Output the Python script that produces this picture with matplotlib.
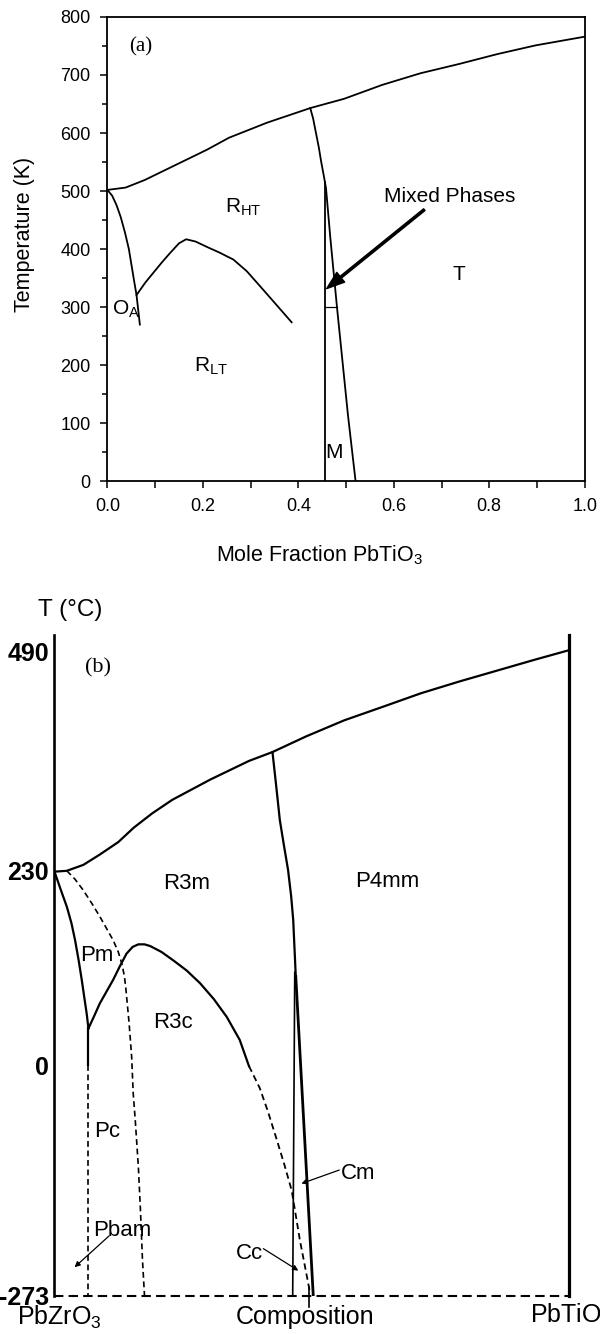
import numpy as np
import matplotlib.pyplot as plt
from matplotlib.ticker import MultipleLocator

plt.rcParams['font.family'] = ['Liberation Sans', 'DejaVu Sans']
plt.rcParams['mathtext.fontset'] = 'custom'
plt.rcParams['mathtext.rm'] = 'Liberation Sans'
plt.rcParams['mathtext.it'] = 'Liberation Sans:italic'
plt.rcParams['mathtext.bf'] = 'Liberation Sans:bold'
plt.rcParams['lines.solid_joinstyle'] = 'round'
plt.rcParams['lines.dash_joinstyle'] = 'round'

# ---- panel (a): phase diagram, T in K vs mole fraction PbTiO3
a_curie_x = [0, 0.038, 0.078, 0.138, 0.208, 0.255, 0.335, 0.425, 0.496, 0.576, 0.656, 0.737, 0.817, 0.897, 1.0]
a_curie_t = [502, 506, 519, 543, 571, 592, 618, 643, 659, 683, 703, 719, 736, 751, 766]
a_oa_x = [0, 0.010, 0.019, 0.028, 0.037, 0.045, 0.051, 0.056, 0.061, 0.068]
a_oa_t = [502, 492, 476, 455, 428, 400, 370, 345, 321, 270]
a_rlt_x = [0.061, 0.080, 0.096, 0.115, 0.131, 0.150, 0.165, 0.185, 0.208, 0.235, 0.264, 0.292, 0.320, 0.352, 0.386]
a_rlt_t = [321, 343, 359, 378, 393, 410, 417, 413, 404, 394, 382, 362, 336, 306, 274]
a_mpb_x = [0.425, 0.431, 0.437, 0.443, 0.448, 0.453, 0.458, 0.467, 0.481, 0.504, 0.520]
a_mpb_t = [643, 625, 600, 575, 550, 528, 505, 420, 300, 114, 0]
a_mono_x = [0.455, 0.455]
a_mono_t = [0, 515]
a_rt_x = [0.455, 0.481]
a_rt_t = [300, 300]

# ---- panel (b): schematic, T in deg C vs composition
b_curie_x = [0, 0.024, 0.056, 0.0875, 0.124, 0.154, 0.19, 0.229, 0.303, 0.378, 0.4237, 0.489, 0.563, 0.638, 0.712, 0.787, 0.861, 0.935, 1.0]
b_curie_t = [229, 230, 237, 249, 264, 281, 298, 314, 338, 360, 370.5, 389, 408, 424, 440, 454, 467, 480, 491]
b_pm_x = [0, 0.012, 0.024, 0.033, 0.040, 0.047, 0.053, 0.058, 0.0626, 0.066]
b_pm_t = [229, 208, 187.5, 168, 148, 124, 101, 80, 61, 43.6]
b_r3c_x = [0.066, 0.077, 0.088, 0.101, 0.114, 0.127, 0.140, 0.152, 0.163, 0.175, 0.186, 0.208, 0.231, 0.257, 0.283, 0.310, 0.335, 0.360, 0.378]
b_r3c_t = [43.6, 58, 73, 87, 101, 117, 132, 140, 143, 143, 141, 134, 124, 112, 97, 78, 57, 30, -1]
b_r3c_dash_x = [0.378, 0.399, 0.415, 0.432, 0.447, 0.461, 0.477, 0.497]
b_r3c_dash_t = [-1, -27, -55, -88, -118, -148, -207, -270]
b_pc_x = [0.024, 0.040, 0.056, 0.072, 0.088, 0.101, 0.114, 0.124, 0.131, 0.136, 0.139, 0.145, 0.150, 0.153, 0.157, 0.163, 0.167, 0.171, 0.175]
b_pc_t = [230, 220, 207, 192, 176, 162, 148, 134, 120, 105, 89, 50, 10, -33, -65, -120, -170, -230, -273]
b_pbam_solid_t = [43.6, 0]
b_pbam_dash_t = [0, -273]
b_pbam_x = 0.066
b_mpb_x = [0.4237, 0.431, 0.438, 0.446, 0.454, 0.460, 0.464, 0.469]
b_mpb_t = [370.5, 330, 290, 260, 231, 200, 172, 105]
b_cc_x = [0.467, 0.463]
b_cc_t = [110, -273]
b_cm_x = [0.469, 0.503]
b_cm_t = [105, -273]
b_ticks = [490, 230, 0, -273]
b_ticklabels = ['490', '230', '0', '-273']

fig = plt.figure(figsize=(6, 13.34), dpi=100)

ax = fig.add_axes([0.179, 0.6392, 0.7955, 0.3481])
lw = 1.3
ax.plot(a_curie_x, a_curie_t, color='black', lw=lw)
ax.plot(a_oa_x, a_oa_t, color='black', lw=lw)
ax.plot(a_rlt_x, a_rlt_t, color='black', lw=lw)
ax.plot(a_mpb_x, a_mpb_t, color='black', lw=lw)
ax.plot(a_mono_x, a_mono_t, color='black', lw=lw)
ax.plot(a_rt_x, a_rt_t, color='black', lw=0.9)
ax.set_xlim(0, 1)
ax.set_ylim(0, 800)
ax.xaxis.set_major_locator(MultipleLocator(0.2))
ax.xaxis.set_minor_locator(MultipleLocator(0.1))
ax.yaxis.set_major_locator(MultipleLocator(100))
ax.yaxis.set_minor_locator(MultipleLocator(50))
ax.xaxis.set_major_formatter(plt.FuncFormatter(lambda v, p: '%.1f' % v))
ax.tick_params(which='both', direction='out', width=1.1, labelsize=13)
ax.tick_params(which='major', length=5)
ax.tick_params(which='minor', length=3.5)
ax.tick_params(axis='x', which='both', pad=7, length=5)
ax.tick_params(axis='y', pad=7)
for s in ax.spines.values():
    s.set_linewidth(1.3)
ax.set_xlabel('Mole Fraction PbTiO$_3$', fontsize=15.5)
ax.xaxis.set_label_coords(0.445, -0.133)
ax.set_ylabel('Temperature (K)', fontsize=15.5)
ax.yaxis.set_label_coords(-0.152, 0.531)

ax.text(0.07, 748, '(a)', family=['Liberation Serif'], fontsize=15, ha='center', va='center')
ax.text(0.246, 462, r'R$_{\mathrm{HT}}$', fontsize=15, ha='left', va='baseline')
ax.text(0.182, 189, r'R$_{\mathrm{LT}}$', fontsize=15, ha='left', va='baseline')
ax.text(0.009, 287, r'O$_{\mathrm{A}}$', fontsize=15, ha='left', va='baseline')
ax.text(0.7366, 357, 'T', fontsize=15, ha='center', va='center')
ax.text(0.456, 40, 'M', fontsize=15, ha='left', va='baseline')
ax.text(0.58, 481, 'Mixed Phases', fontsize=15, ha='left', va='baseline')
ax.annotate('', xy=(0.4594, 332), xytext=(0.664, 468),
            arrowprops=dict(facecolor='black', edgecolor='black', width=1.6,
                            headwidth=9, headlength=13, shrink=0))

# ---- panel (b)
bx = fig.add_axes([0.0908, 0.0285, 0.8575, 0.4955])
bx.set_xlim(0, 1)
bx.set_ylim(-273, 509)
for s in bx.spines.values():
    s.set_visible(False)
bx.set_xticks([])
bx.set_yticks(b_ticks)
bx.set_yticklabels(b_ticklabels, fontweight='bold', fontsize=18)
bx.tick_params(axis='y', length=0, pad=4)

blw = 1.6
dash = (0, (3.5, 2.2))
bx.plot([0, 0], [-273, 509], color='black', lw=1.9, clip_on=False)
bx.plot([1, 1], [-273, 509], color='black', lw=2.3, clip_on=False)
bx.plot([0, 1], [-273, -273], color='black', lw=1.5, ls=(0, (4.5, 2.5)), clip_on=False)
bx.plot(b_curie_x, b_curie_t, color='black', lw=blw)
bx.plot(b_pm_x, b_pm_t, color='black', lw=blw)
bx.plot(b_r3c_x, b_r3c_t, color='black', lw=blw)
bx.plot(b_r3c_dash_x, b_r3c_dash_t, color='black', lw=1.3, ls=dash)
bx.plot(b_pc_x, b_pc_t, color='black', lw=1.2, ls=dash)
bx.plot([b_pbam_x, b_pbam_x], b_pbam_solid_t, color='black', lw=blw)
bx.plot([b_pbam_x, b_pbam_x], b_pbam_dash_t, color='black', lw=1.2, ls=dash)
bx.plot(b_mpb_x, b_mpb_t, color='black', lw=blw)
bx.plot(b_cc_x, b_cc_t, color='black', lw=1.2)
bx.plot(b_cm_x, b_cm_t, color='black', lw=2.0)
bx.plot([0.495, 0.495], [-262, -286], color='black', lw=1.2, clip_on=False)

bx.text(0.0845, 470, '(b)', family=['Liberation Serif'], fontsize=16, ha='center', va='center')
bx.text(0.256, 215, 'R3m', fontsize=16, ha='center', va='center')
bx.text(0.647, 217, 'P4mm', fontsize=16, ha='center', va='center')
bx.text(0.082, 130, 'Pm', fontsize=16, ha='center', va='center')
bx.text(0.231, 50, 'R3c', fontsize=16, ha='center', va='center')
bx.text(0.102, -79, 'Pc', fontsize=16, ha='center', va='center')
bx.text(0.076, -196, 'Pbam', fontsize=16, ha='left', va='center')
bx.text(0.352, -223, 'Cc', fontsize=16, ha='left', va='center')
bx.text(0.557, -128, 'Cm', fontsize=16, ha='left', va='center')
thin = dict(arrowstyle='-|>', color='black', lw=0.9, mutation_scale=8, shrinkA=0, shrinkB=0)
bx.annotate('', xy=(0.039, -239), xytext=(0.106, -202), arrowprops=thin)
bx.annotate('', xy=(0.474, -243), xytext=(0.406, -217), arrowprops=thin)
bx.annotate('', xy=(0.480, -140), xytext=(0.5535, -124), arrowprops=thin)

bx.text(-0.073, -298, 'PbZrO$_3$', fontsize=18, ha='left', va='center', clip_on=False)
bx.text(0.487, -298, 'Composition', fontsize=18, ha='center', va='center', clip_on=False)
bx.text(0.924, -296, 'PbTiO$_3$', fontsize=18, ha='left', va='center', clip_on=False)
fig.text(0.0633, 0.5427, 'T (°C)', fontsize=17.5, ha='left', va='center')

fig.savefig('out.png', dpi=100)
